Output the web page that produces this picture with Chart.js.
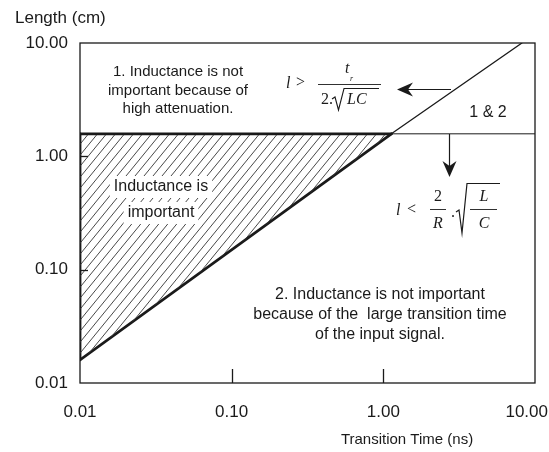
<!DOCTYPE html>
<html>
<head>
<meta charset="utf-8">
<script src="https://cdn.jsdelivr.net/npm/chart.js@4.4.1/dist/chart.umd.min.js"></script>
<style>
  html, body { margin: 0; padding: 0; background: #fff; }
  #wrap { width: 549px; height: 452px; position: relative; }
</style>
</head>
<body>
<div id="wrap"><canvas id="c" width="549" height="452"></canvas></div>
<script>
// ---- data ----
const xTickValues = [0.01, 0.1, 1, 10];
const xTickLabels = ['0.01', '0.10', '1.00', '10.00'];
const yTickValues = [0.01, 0.1, 1, 10];
const yTickLabels = ['0.01', '0.10', '1.00', '10.00'];
const innerTickX = [0.1, 1];        // short tick marks on the bottom edge
const innerTickY = [0.1, 1];        // short tick marks on the left edge

// limit 2 (transition-time limit): diagonal line, length vs transition time
const transitionLimitX = [0.01, 1.13, 8.2];
const transitionLimitY = [0.016, 1.58, 10];
// limit 1 (attenuation limit): horizontal line at constant length
const attenuationLimitX = [0.01, 1.13, 10];
const attenuationLimitY = [1.58, 1.58, 1.58];

const xTitle = 'Transition Time (ns)';
const yTitle = 'Length (cm)';
const region1Text = ['1. Inductance is not', 'important because of', 'high attenuation.'];
const region2Text = ['2. Inductance is not important', 'because of the  large transition time', 'of the input signal.'];
const hatchText = ['Inductance is', 'important'];
const overlapText = '1 & 2';

// ---- helpers ----
const pts = (xs, ys, from, to) => xs.slice(from, to).map((x, i) => ({ x, y: ys[from + i] }));
const INK = '#1a1a1a';
const SANS = '"Liberation Sans", Arial, Helvetica, sans-serif';
const SERIF = '"Liberation Serif", "Times New Roman", serif';

function hatchPattern() {
  const w = 9, h = 11;
  const c = document.createElement('canvas');
  c.width = w; c.height = h;
  const g = c.getContext('2d');
  g.strokeStyle = '#333';
  g.lineWidth = 0.9;
  for (const k of [-1, 0, 1]) {
    g.beginPath();
    g.moveTo(k * w, h);
    g.lineTo(k * w + w, 0);
    g.stroke();
  }
  return g.createPattern(c, 'repeat');
}

function arrowHead(ctx, tx, ty, dx, dy) {
  const px = -dy, py = dx;
  const L = 16, W = 7, N = 11;
  ctx.beginPath();
  ctx.moveTo(tx, ty);
  ctx.lineTo(tx - dx * L + px * W, ty - dy * L + py * W);
  ctx.lineTo(tx - dx * N, ty - dy * N);
  ctx.lineTo(tx - dx * L - px * W, ty - dy * L - py * W);
  ctx.closePath();
  ctx.fill();
}

const decor = {
  id: 'decor',
  beforeDatasetsDraw(chart) {
    const { ctx, chartArea: a } = chart;
    ctx.save();
    ctx.strokeStyle = INK;
    ctx.lineWidth = 1.3;
    ctx.strokeRect(a.left, a.top, a.right - a.left, a.bottom - a.top);
    ctx.restore();
  },
  afterDatasetsDraw(chart) {
    const { ctx, chartArea: a, scales: { x, y } } = chart;
    ctx.save();
    ctx.fillStyle = INK;
    ctx.strokeStyle = INK;

    // inner tick marks
    ctx.lineWidth = 1.3;
    innerTickX.forEach(v => {
      const px = Math.round(x.getPixelForValue(v)) + 0.5;
      ctx.beginPath(); ctx.moveTo(px, a.bottom); ctx.lineTo(px, a.bottom - 14); ctx.stroke();
    });
    innerTickY.forEach(v => {
      const py = Math.round(y.getPixelForValue(v)) + 0.5;
      ctx.beginPath(); ctx.moveTo(a.left, py); ctx.lineTo(a.left + 8, py); ctx.stroke();
    });

    // tick labels
    ctx.font = '17px ' + SANS;
    ctx.textBaseline = 'middle';
    ctx.textAlign = 'right';
    yTickValues.forEach((v, i) => ctx.fillText(yTickLabels[i], a.left - 12, y.getPixelForValue(v)));
    ctx.textAlign = 'center';
    xTickValues.forEach((v, i) => {
      const w = ctx.measureText(xTickLabels[i]).width;
      const px = Math.min(x.getPixelForValue(v), chart.width - w / 2 - 1);
      ctx.fillText(xTickLabels[i], px, a.bottom + 29);
    });

    // axis titles
    ctx.textAlign = 'left';
    ctx.fillText(yTitle, 15, 18);
    ctx.font = '15px ' + SANS;
    ctx.textAlign = 'center';
    ctx.fillText(xTitle, 407, 440);

    // region 1 text
    ctx.font = '15px ' + SANS;
    region1Text.forEach((t, i) => ctx.fillText(t, 178, 72 + i * 18.5));
    // region 2 text
    ctx.font = '16px ' + SANS;
    region2Text.forEach((t, i) => ctx.fillText(t, 380, 295 + i * 20));
    // overlap label
    ctx.fillText(overlapText, 488, 113);

    // text inside hatched area with white background
    ctx.font = '16px ' + SANS;
    hatchText.forEach((t, i) => {
      const cy = 187 + i * 26;
      const w = ctx.measureText(t).width;
      ctx.fillStyle = '#fff';
      ctx.fillRect(161 - w / 2 - 4, cy - 11, w + 8, 22);
      ctx.fillStyle = INK;
      ctx.fillText(t, 161, cy);
    });

    // arrows
    ctx.lineWidth = 1.2;
    ctx.beginPath(); ctx.moveTo(451, 89.5); ctx.lineTo(405, 89.5); ctx.stroke();
    arrowHead(ctx, 397, 89.5, -1, 0);
    ctx.beginPath(); ctx.moveTo(449.5, 134); ctx.lineTo(449.5, 168); ctx.stroke();
    arrowHead(ctx, 449.5, 177, 0, 1);

    // formula 1:  l > t_r / (2 sqrt(LC))
    ctx.font = 'italic 16px ' + SERIF;
    ctx.textAlign = 'left';
    ctx.fillText('l', 286, 84);
    ctx.font = '16px ' + SERIF;
    ctx.fillText('>', 296, 83);
    ctx.font = 'italic 16px ' + SERIF;
    ctx.fillText('t', 345, 69);
    ctx.font = 'italic 8px ' + SERIF;
    ctx.fillText('r', 350, 79);
    ctx.lineWidth = 0.9;
    ctx.beginPath(); ctx.moveTo(318, 84.5); ctx.lineTo(381, 84.5); ctx.stroke();
    ctx.font = '16px ' + SERIF;
    ctx.fillText('2', 321, 100);
    ctx.fillText('.', 329, 100);
    ctx.lineWidth = 1.1;
    ctx.beginPath();
    ctx.moveTo(332, 99); ctx.lineTo(335, 97); ctx.lineTo(338.5, 110);
    ctx.lineTo(344, 88.5); ctx.lineTo(379, 88.5);
    ctx.stroke();
    ctx.font = 'italic 16px ' + SERIF;
    ctx.fillText('LC', 347, 100);

    // formula 2:  l < 2/R . sqrt(L/C)
    ctx.fillText('l', 396, 211);
    ctx.font = '16px ' + SERIF;
    ctx.fillText('<', 407, 210);
    ctx.textAlign = 'center';
    ctx.fillText('2', 438, 197);
    ctx.lineWidth = 0.9;
    ctx.beginPath(); ctx.moveTo(430, 209.5); ctx.lineTo(446, 209.5); ctx.stroke();
    ctx.font = 'italic 16px ' + SERIF;
    ctx.fillText('R', 438, 224);
    ctx.font = '16px ' + SERIF;
    ctx.fillText('.', 453, 213);
    ctx.lineWidth = 1.2;
    ctx.beginPath();
    ctx.moveTo(456, 212); ctx.lineTo(459, 210); ctx.lineTo(462, 233);
    ctx.lineTo(467, 183.5); ctx.lineTo(500, 183.5);
    ctx.stroke();
    ctx.lineWidth = 0.9;
    ctx.beginPath(); ctx.moveTo(470, 209.5); ctx.lineTo(497, 209.5); ctx.stroke();
    ctx.font = 'italic 16px ' + SERIF;
    ctx.fillText('L', 484, 197);
    ctx.fillText('C', 484, 224);

    ctx.restore();
  }
};

const lineDs = (data, width, extra) => Object.assign({
  data, showLine: true, pointRadius: 0, borderColor: INK, borderWidth: width,
  fill: false, tension: 0, borderCapStyle: 'round'
}, extra || {});

new Chart(document.getElementById('c'), {
  type: 'scatter',
  data: {
    datasets: [
      lineDs(pts(attenuationLimitX, attenuationLimitY, 0, 2), 2.8, { fill: '+1', backgroundColor: hatchPattern() }),
      lineDs(pts(transitionLimitX, transitionLimitY, 0, 2), 2.8),
      lineDs([{ x: transitionLimitX[0], y: transitionLimitY[0] }, { x: attenuationLimitX[0], y: attenuationLimitY[0] }], 2.8),
      lineDs(pts(transitionLimitX, transitionLimitY, 1, 3), 1.3),
      lineDs(pts(attenuationLimitX, attenuationLimitY, 1, 3), 1.0)
    ]
  },
  options: {
    responsive: false,
    animation: false,
    layout: { padding: { left: 80, right: 14, top: 43, bottom: 69 } },
    plugins: { legend: { display: false }, tooltip: { enabled: false } },
    scales: {
      x: { type: 'logarithmic', min: 0.01, max: 10, display: false },
      y: { type: 'logarithmic', min: 0.01, max: 10, display: false }
    }
  },
  plugins: [decor]
});
</script>
</body>
</html>
